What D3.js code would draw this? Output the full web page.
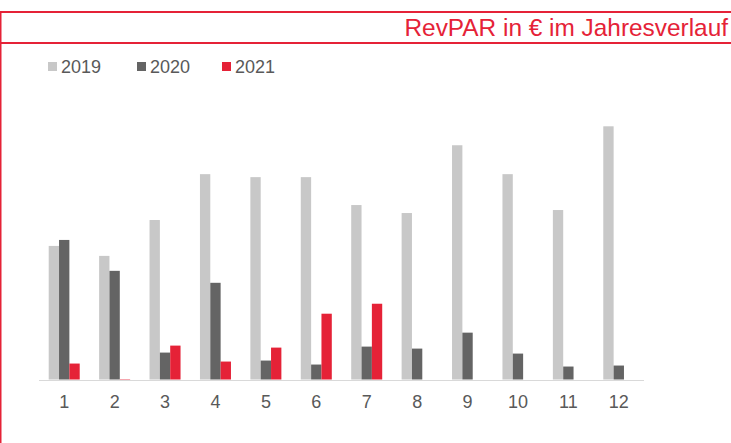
<!DOCTYPE html>
<html>
<head>
<meta charset="utf-8">
<script src="https://cdn.jsdelivr.net/npm/d3@7"></script>
<style>
	body { margin: 0; background: #fff; }
	svg { display: block; font-family: "Liberation Sans", Arial, sans-serif; }
</style>
</head>
<body>
<svg id="chart" width="731" height="443"></svg>
<script>
// data (RevPAR in EUR, estimated)
var months = ["1", "2", "3", "4", "5", "6", "7", "8", "9", "10", "11", "12"];
var years = ["2019", "2020", "2021"];
var values2019 = [67, 62, 80, 103, 101.5, 101.5, 87.5, 83.5, 117.5, 103, 85, 127];
var values2020 = [70, 54.5, 13.5, 48.5, 9.5, 7.5, 16.5, 15.5, 23.5, 13, 6.5, 7];
var values2021 = [8, 0.2, 17, 9, 16, 33, 38, null, null, null, null, null];
var colors = ["#c8c8c8", "#646464", "#e52237"];

var red = "#e52237";
var textGrey = "#595959";

var svg = d3.select("#chart");

var width = 731, height = 443;
var baseY = 380;

// frame
svg.append("rect") // top line
	.attr("x", 0).attr("y", 11)
	.attr("width", width).attr("height", 2)
	.style("fill", red);
svg.append("rect") // line under title
	.attr("x", 0).attr("y", 42)
	.attr("width", width).attr("height", 2)
	.style("fill", red);
svg.append("rect") // left line
	.attr("x", 0).attr("y", 11)
	.attr("width", 1.5).attr("height", height - 11)
	.style("fill", red);

svg.append("text")
	.attr("x", 728)
	.attr("y", 36)
	.style("text-anchor", "end")
	.style("font-size", "24.4px")
	.style("fill", red)
	.text("RevPAR in \u20ac im Jahresverlauf");

// legend
var legendX = [48, 137, 222];
var legend = svg.selectAll(".legend")
	.data(years)
	.enter()
	.append("g")
	.attr("class", "legend")
	.attr("transform", function(d, i) {
		return "translate(" + legendX[i] + ",62)";
	});
legend.append("rect")
	.attr("width", 9)
	.attr("height", 9)
	.style("fill", function(d, i) { return colors[i]; });
legend.append("text")
	.attr("x", 13)
	.attr("y", 11)
	.style("font-size", "18px")
	.style("fill", textGrey)
	.text(function(d) { return d; });

// scales
var x = d3.scaleBand()
	.domain(months)
	.range([39, 644])
	.paddingInner(0.385)
	.paddingOuter(0.1925);

var xInner = d3.scaleBand()
	.domain(years)
	.range([0, x.bandwidth()]);

var y = d3.scaleLinear()
	.domain([0, 127])
	.range([baseY - 0.5, 126.3]);

var series = [values2019, values2020, values2021];

series.forEach(function(vals, s) {
	svg.append("g")
		.selectAll("rect")
		.data(vals.map(function(v, i) { return { month: months[i], value: v }; })
			.filter(function(d) { return d.value != null; }))
		.enter()
		.append("rect")
		.attr("x", function(d) { return x(d.month) + xInner(years[s]); })
		.attr("y", function(d) { return y(d.value); })
		.attr("width", xInner.bandwidth())
		.attr("height", function(d) { return y(0) - y(d.value); })
		.style("fill", colors[s]);
});

// x axis
var xAxis = svg.append("g")
	.attr("transform", "translate(0," + baseY + ")")
	.call(d3.axisBottom(x).tickSize(0).tickPadding(15));
xAxis.select(".domain")
	.attr("d", "M39,0.5H644")
	.style("stroke", "#d9d9d9");
xAxis.selectAll("text")
	.attr("dy", "0.71em")
	.style("font-size", "18px")
	.style("font-family", "'Liberation Sans', Arial, sans-serif")
	.style("fill", textGrey);
</script>
</body>
</html>
